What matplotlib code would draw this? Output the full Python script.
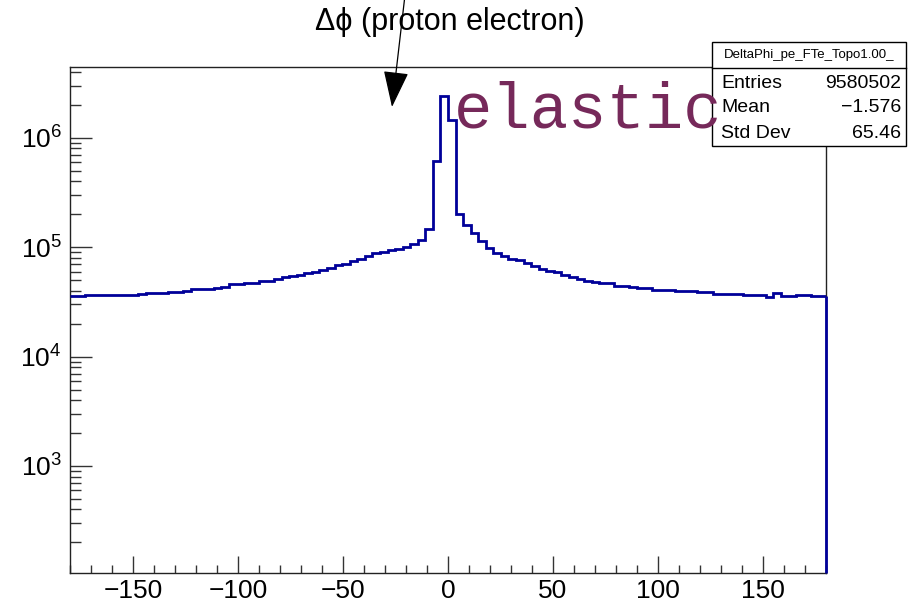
import numpy as np
import matplotlib
matplotlib.use("Agg")
import matplotlib.pyplot as plt
from matplotlib.patches import Rectangle
from matplotlib.lines import Line2D
from matplotlib.ticker import MultipleLocator, LogLocator, NullFormatter

plt.rcParams["font.family"] = ["Liberation Sans", "DejaVu Sans"]
plt.rcParams["mathtext.fontset"] = "custom"
plt.rcParams["mathtext.rm"] = "Liberation Sans"
plt.rcParams["mathtext.it"] = "Liberation Sans:italic"
plt.rcParams["mathtext.bf"] = "Liberation Sans:bold"

# Delta-phi histogram: 100 bins from -180 to 180 degrees
phi_min, phi_max, n_bins = -180.0, 180.0, 100
counts = [
    35600, 35600, 36700, 36700, 36800, 36800, 36800, 36900, 36900, 37000,
    38200, 38200, 38300, 39000, 39100, 40100, 41200, 41200, 41300, 42100,
    43000, 45700, 45800, 46700, 46800, 49400, 49500, 51300, 53000, 54600,
    56100, 57700, 59400, 61400, 65000, 68200, 70400, 74500, 78500, 82400,
    88500, 91000, 93500, 96900, 101600, 107600, 115900, 146900, 616600, 2420000,
    1460000, 202300, 158800, 135600, 114600, 98300, 88500, 82400, 78500, 75800,
    71700, 67700, 63600, 61000, 58900, 56100, 53400, 51300, 49400, 48100,
    47100, 47000, 44500, 44400, 43300, 42100, 42000, 40900, 40900, 40800,
    40100, 40100, 40000, 38700, 38600, 37600, 37600, 37500, 37500, 36600,
    36600, 36500, 35300, 37900, 35600, 35600, 36800, 36800, 35600, 35500,
]
hist_name = "DeltaPhi_pe_FTe_Topo1.00_"
stat_labels = ["Entries", "Mean", "Std Dev"]
stat_values = ["9580502", "\u22121.576", "65.46"]
title_text = "\u0394\u03d5 (proton electron)"
note_text = "elastic"
x_ticks = [-150, -100, -50, 0, 50, 100, 150]

W, H = 912, 606
fig = plt.figure(figsize=(W / 100, H / 100), dpi=100)


def fx(x):
    return x / W


def fy(y):
    return 1 - y / H


ax = fig.add_axes([fx(70), fy(573), fx(826) - fx(70), fy(67) - fy(573)])

edges = np.linspace(phi_min, phi_max, n_bins + 1)
vals = np.array(counts, dtype=float)
hist_color = "#000099"
ax.stairs(vals, edges, baseline=None, color=hist_color, lw=2.0, zorder=3)
ax.set_yscale("log")
ax.set_xlim(phi_min, phi_max)
ax.set_ylim(105, 4.45e6)
# closing edge of the last bin down to the frame
ax.vlines(edges[-1], ax.get_ylim()[0], vals[-1], color=hist_color, lw=2.0,
          zorder=3, clip_on=False)

ax.set_xticks(x_ticks)
ax.xaxis.set_minor_locator(MultipleLocator(10))
ax.yaxis.set_major_locator(LogLocator(base=10, numticks=20))
ax.yaxis.set_minor_locator(LogLocator(base=10, subs=np.arange(2, 10), numticks=50))
ax.yaxis.set_minor_formatter(NullFormatter())

for s in ax.spines.values():
    s.set_color("#222222")
    s.set_linewidth(1.0)
ax.tick_params(which="both", direction="in", top=False, right=False,
               color="#333333", width=1.0, labelsize=19)
ax.tick_params(axis="x", which="major", length=12, pad=4)
ax.tick_params(axis="x", which="minor", length=6)
ax.tick_params(axis="y", which="major", length=16, pad=6)
ax.tick_params(axis="y", which="minor", length=8)

# title
fig.text(fx(450), fy(22), title_text, ha="center", va="center", fontsize=22)

# statistics box
box = Rectangle((fx(712), fy(146)), fx(906) - fx(712), fy(42) - fy(146),
                transform=fig.transFigure, facecolor="white", edgecolor="black",
                lw=1.0, zorder=5)
fig.add_artist(box)
fig.add_artist(Line2D([fx(712), fx(906)], [fy(68), fy(68)],
                      transform=fig.transFigure, color="black", lw=1.0, zorder=6))
fig.text(fx(809), fy(55), hist_name, ha="center", va="center", fontsize=9.5,
         zorder=7)
row_y = [83, 108, 133]
for lab, val, yy in zip(stat_labels, stat_values, row_y):
    fig.text(fx(721), fy(yy), lab, ha="left", va="center", fontsize=14, zorder=7)
    fig.text(fx(901), fy(yy), val, ha="right", va="center", fontsize=14, zorder=7)

# annotation text and arrow
fig.text(fx(454), fy(128), note_text, ha="left", va="baseline",
         family=["Liberation Mono", "DejaVu Sans Mono"], fontsize=46,
         color="#76295a", zorder=8)
ax.annotate("", xy=(392, H - 107), xycoords="figure pixels",
            xytext=(405, H + 5), textcoords="figure pixels",
            arrowprops=dict(arrowstyle="-|>,head_length=23,head_width=8",
                            mutation_scale=1, color="black", lw=0.9,
                            shrinkA=0, shrinkB=0),
            annotation_clip=False)

fig.savefig("out.png", dpi=100)
